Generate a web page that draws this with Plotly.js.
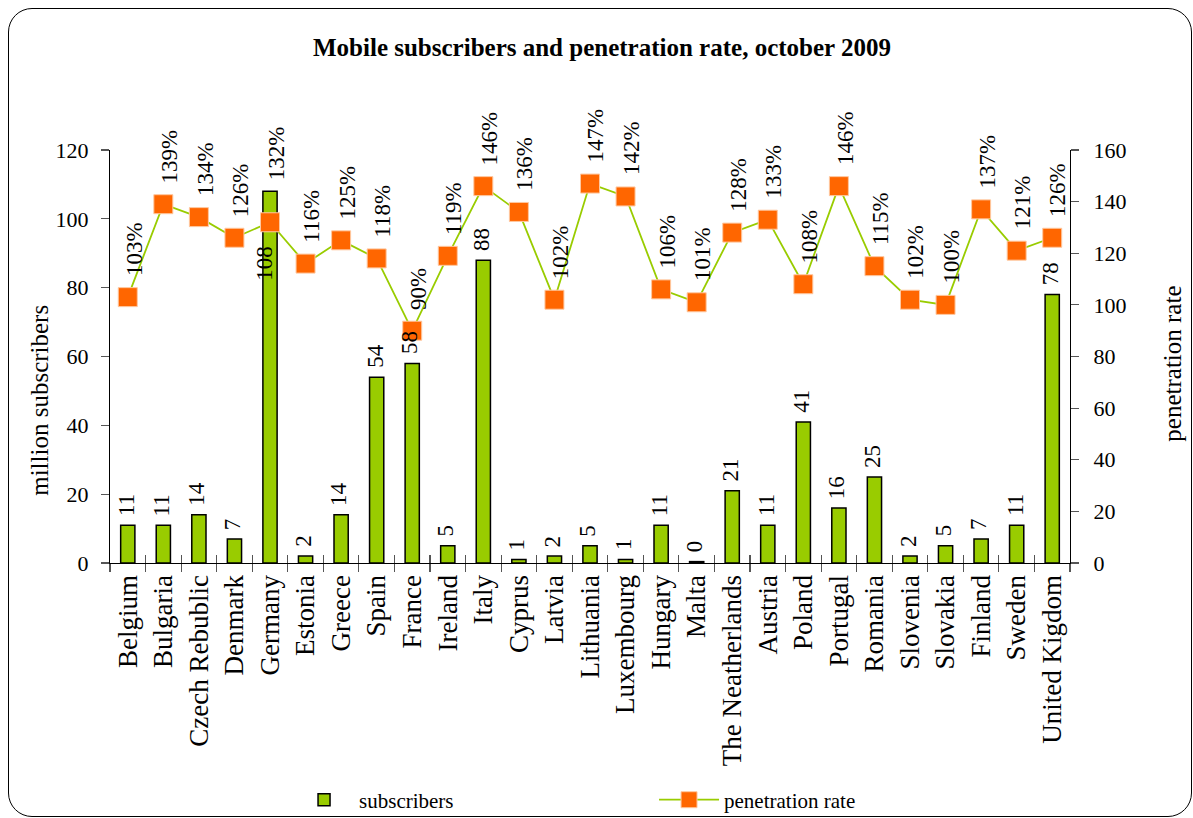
<!DOCTYPE html>
<html>
<head>
<meta charset="utf-8">
<script src="https://cdn.plot.ly/plotly-3.0.1.min.js"></script>
<style>
  html, body { margin: 0; padding: 0; background: #ffffff; overflow: hidden; }
  #wrap { position: relative; width: 1193px; height: 818px; }
  #chart { position: absolute; left: 0; top: 0; width: 1193px; height: 818px; }
  #frame {
    position: absolute; left: 8px; top: 8px; width: 1184px; height: 809px;
    box-sizing: border-box; border: 1.5px solid #000; border-radius: 24px;
    pointer-events: none;
  }
</style>
</head>
<body>
<div id="wrap">
  <div id="chart"></div>
  <div id="frame"></div>
</div>
<script>
// Mobile subscribers (millions) and penetration rate (%) per EU country, October 2009
const countries = ['Belgium', 'Bulgaria', 'Czech Rebublic', 'Denmark', 'Germany', 'Estonia',
  'Greece', 'Spain', 'France', 'Ireland', 'Italy', 'Cyprus', 'Latvia', 'Lithuania',
  'Luxembourg', 'Hungary', 'Malta', 'The Neatherlands', 'Austria', 'Poland', 'Portugal',
  'Romania', 'Slovenia', 'Slovakia', 'Finland', 'Sweden', 'United Kigdom'];
const subscribers = [11, 11, 14, 7, 108, 2, 14, 54, 58, 5, 88, 1, 2, 5, 1, 11, 0.4, 21, 11,
  41, 16, 25, 2, 5, 7, 11, 78];
const penetration = [103, 139, 134, 126, 132, 116, 125, 118, 90, 119, 146, 136, 102, 147,
  142, 106, 101, 128, 133, 108, 146, 115, 102, 100, 137, 121, 126];
const leftTicks = [0, 20, 40, 60, 80, 100, 120];
const rightTicks = [0, 20, 40, 60, 80, 100, 120, 140, 160];

const SERIF = 'Liberation Serif, Times New Roman, serif';
const GREEN = '#99cc00';
const ORANGE = '#ff6600';

function serif(size) {
  return { family: SERIF, size: size, color: '#000000' };
}

const traces = [
  {
    type: 'bar', name: 'subscribers',
    x: countries, y: subscribers,
    xaxis: 'x', yaxis: 'y',
    width: 0.4,
    marker: { color: GREEN, line: { color: '#000000', width: 1.5 } }
  },
  {
    type: 'scatter', mode: 'lines+markers', name: 'penetration rate',
    x: countries, y: penetration,
    xaxis: 'x2', yaxis: 'y2',
    line: { color: GREEN, width: 1.8 },
    marker: { symbol: 'square', size: 19, color: ORANGE, line: { color: '#ffc8a0', width: 1 } },
    cliponaxis: false
  }
];

// Value labels, written vertically above each bar and each marker
const annotations = [];
countries.forEach((c, i) => {
  const crowded = c === 'Germany';   // tall bar: its label sits inside the bar top
  annotations.push({
    x: c, y: subscribers[i], xref: 'x', yref: 'y',
    text: String(Math.round(subscribers[i])),
    textangle: -90, showarrow: false,
    xanchor: 'center', yanchor: 'bottom',
    xshift: crowded ? -5 : -2, yshift: crowded ? -92 : 7,
    font: serif(23)
  });
  annotations.push({
    x: c, y: penetration[i], xref: 'x2', yref: 'y2',
    text: penetration[i] + '%',
    textangle: -90, showarrow: false,
    xanchor: 'center', yanchor: 'bottom',
    xshift: 6, yshift: crowded ? 40 : 19,
    font: serif(23)
  });
});

// Axis titles
annotations.push({
  text: 'million subscribers', xref: 'paper', yref: 'paper',
  x: -0.073, y: 0.395, xanchor: 'center', yanchor: 'middle',
  textangle: -90, showarrow: false,
  font: serif(25)
});
annotations.push({
  text: 'penetration rate', xref: 'paper', yref: 'paper',
  x: 1.107, y: 0.482, xanchor: 'center', yanchor: 'middle',
  textangle: -90, showarrow: false,
  font: serif(25)
});

const catRange = [-0.5, countries.length - 0.5];
const TICK = { ticklen: 8, tickcolor: '#555555', tickwidth: 1.2 };

const layout = {
  width: 1193, height: 818,
  margin: { l: 110, r: 123, t: 150, b: 255, autoexpand: false },
  paper_bgcolor: 'rgba(0,0,0,0)',
  plot_bgcolor: 'rgba(0,0,0,0)',
  font: serif(22),
  title: {
    text: '<b>Mobile subscribers and penetration rate, october 2009</b>',
    font: serif(25),
    x: 0.5046, xref: 'container', xanchor: 'center',
    y: 0.9425, yref: 'container', yanchor: 'middle'
  },
  showlegend: true,
  legend: {
    orientation: 'h',
    x: 0.1865, xanchor: 'left',
    y: -0.574, yanchor: 'middle',
    font: serif(21),
    itemwidth: 60,
    entrywidth: 290,
    bgcolor: 'rgba(0,0,0,0)'
  },
  xaxis: Object.assign({
    type: 'category', range: catRange,
    showline: true, linecolor: '#000000', linewidth: 1.2,
    ticks: 'outside', tickson: 'boundaries',
    tickangle: -90, tickfont: serif(27),
    showgrid: false, zeroline: false, fixedrange: true
  }, TICK),
  xaxis2: Object.assign({
    type: 'category', range: catRange, overlaying: 'x', anchor: 'y',
    showline: false, showticklabels: false,
    ticks: 'inside', tickson: 'boundaries',
    showgrid: false, zeroline: false, fixedrange: true
  }, TICK),
  yaxis: Object.assign({
    range: [0, 120], tickvals: leftTicks,
    showline: true, linecolor: '#000000', linewidth: 1.2,
    ticks: 'outside',
    tickfont: serif(22), ticklabelstandoff: 8,
    showgrid: false, zeroline: false, fixedrange: true
  }, TICK),
  yaxis2: Object.assign({
    range: [0, 160], tickvals: rightTicks, ticksuffix: '%',
    overlaying: 'y', side: 'right', anchor: 'x',
    showline: true, linecolor: '#000000', linewidth: 1.2,
    ticks: 'outside',
    tickfont: serif(22), ticklabelstandoff: 10,
    showgrid: false, zeroline: false, fixedrange: true
  }, TICK),
  yaxis3: Object.assign({
    range: [0, 120], tickvals: leftTicks, overlaying: 'y', side: 'left', anchor: 'x',
    showline: false, showticklabels: false,
    ticks: 'inside',
    showgrid: false, zeroline: false, fixedrange: true
  }, TICK),
  yaxis4: Object.assign({
    range: [0, 160], tickvals: rightTicks, overlaying: 'y', side: 'right', anchor: 'x',
    showline: false, showticklabels: false,
    ticks: 'inside',
    showgrid: false, zeroline: false, fixedrange: true
  }, TICK),
  annotations: annotations
};

Plotly.newPlot('chart', traces, layout, { displayModeBar: false, staticPlot: true });
</script>
</body>
</html>
